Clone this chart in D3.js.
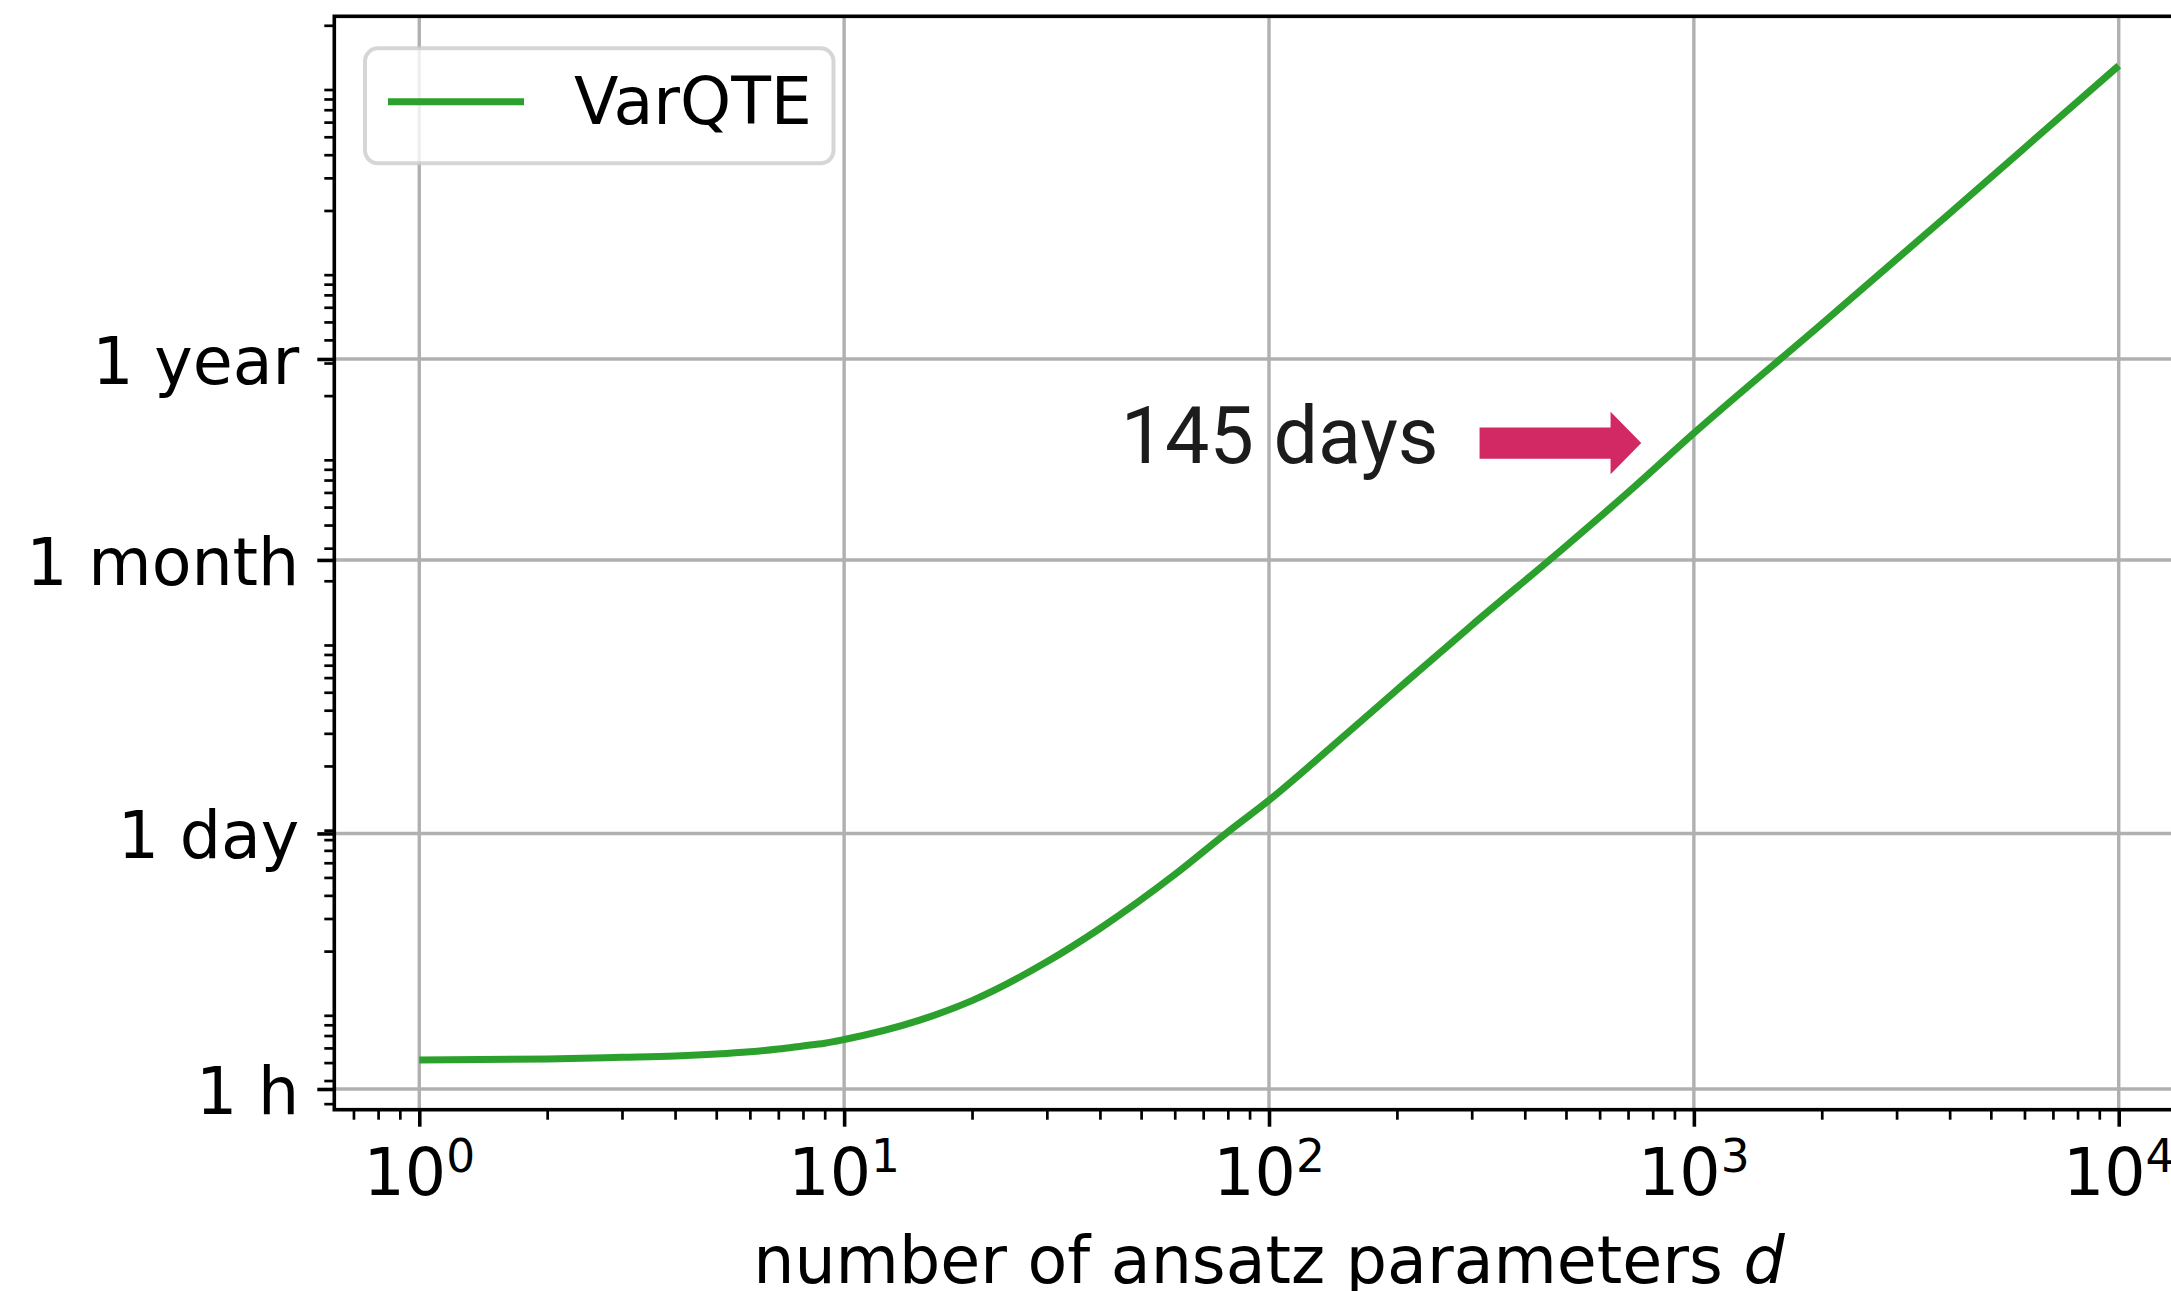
<!DOCTYPE html>
<html>
<head>
<meta charset="utf-8">
<script src="https://cdn.jsdelivr.net/npm/d3@7"></script>
<style>
  html, body { margin: 0; padding: 0; background: #ffffff; }
  svg { display: block; }
</style>
</head>
<body>
<svg id="chart" width="2171" height="1291"></svg>
<script>
// Number of ansatz parameters d
const paramCounts = [1, 2, 3, 4, 5, 6, 7, 8, 9, 10, 15, 20, 30, 40, 60, 80, 100,
                     150, 200, 300, 500, 700, 1000, 2000, 4000, 7000, 10000];
// VarQTE runtime in seconds
const runtimeSeconds = [5160, 5230, 5340, 5430, 5560, 5720, 5920, 6150, 6360, 6660,
                        8450, 10800, 17500, 26500, 51800, 88000, 130500,
                        290000, 515000, 1150000, 3080000, 6000000, 12528000,
                        48800000, 193000000, 592000000, 1210000000];
const seriesName = "VarQTE";

// Named time ticks on the y axis (seconds)
const yTickValues = [3600, 86400, 2592000, 31536000];
const yTickLabels = ["1 h", "1 day", "1 month", "1 year"];
// Decade ticks on the x axis (exponents of 10)
const xTickExponents = [0, 1, 2, 3, 4];

// Callout
const calloutText = "145 days";
const calloutParams = 1000;
const calloutSeconds = 145 * 86400;

// ---- layout ----
const W = 2171, H = 1291;
const plot = { left: 334.3, right: 2203.7, top: 16.3, bottom: 1109.7 };
const FONT = "'DejaVu Sans', sans-serif";
const FS = 65;
const GRID = "#b0b0b0";
const GREEN = "#2ca02c";

const svg = d3.select("#chart");

const x = d3.scaleLog()
  .domain([Math.pow(10, -0.2), Math.pow(10, 4.2)])
  .range([plot.left, plot.right]);
const y = d3.scaleLog()
  .domain([Math.pow(10, 3.4445), Math.pow(10, 9.3496)])
  .range([plot.bottom, plot.top]);

// log minor tick values (2..9 × 10^k) inside a domain
function minorTicks(scale, kMin, kMax) {
  const [lo, hi] = scale.domain();
  const out = [];
  for (let k = kMin; k <= kMax; k++) {
    for (let n = 2; n <= 9; n++) {
      const v = n * Math.pow(10, k);
      if (v >= lo && v <= hi) out.push(v);
    }
  }
  return out;
}
const xMajor = xTickExponents.map(e => Math.pow(10, e));
const xMinor = minorTicks(x, -1, 4);
const yMinor = minorTicks(y, 3, 9);

// ---- grid ----
const grid = svg.append("g").attr("class", "grid");
grid.selectAll("line.gx").data(xMajor).join("line")
  .attr("x1", d => x(d)).attr("x2", d => x(d))
  .attr("y1", plot.top).attr("y2", plot.bottom)
  .attr("stroke", GRID).attr("stroke-width", 3.4);
grid.selectAll("line.gy").data(yTickValues).join("line")
  .attr("y1", d => y(d)).attr("y2", d => y(d))
  .attr("x1", plot.left).attr("x2", plot.right)
  .attr("stroke", GRID).attr("stroke-width", 3.4);

// ---- series ----
const series = paramCounts.map((d, i) => ({ d, t: runtimeSeconds[i] }));
const line = d3.line()
  .x(p => x(p.d))
  .y(p => y(p.t))
  .curve(d3.curveMonotoneX);
svg.append("path")
  .datum(series)
  .attr("d", line)
  .attr("fill", "none")
  .attr("stroke", GREEN)
  .attr("stroke-width", 7)
  .attr("stroke-linecap", "butt")
  .attr("stroke-linejoin", "round");

// ---- axes ticks ----
function styleTicks(g, width) {
  g.select(".domain").remove();
  g.selectAll(".tick line").attr("stroke", "#000").attr("stroke-width", width);
  g.selectAll(".tick text").remove();
}
svg.append("g").attr("transform", `translate(0,${plot.bottom})`)
  .call(d3.axisBottom(x).tickValues(xMinor).tickSize(10).tickFormat(""))
  .call(g => styleTicks(g, 2.7));
svg.append("g").attr("transform", `translate(0,${plot.bottom})`)
  .call(d3.axisBottom(x).tickValues(xMajor).tickSize(17).tickFormat(""))
  .call(g => styleTicks(g, 3.6));
svg.append("g").attr("transform", `translate(${plot.left},0)`)
  .call(d3.axisLeft(y).tickValues(yMinor).tickSize(10).tickFormat(""))
  .call(g => styleTicks(g, 2.7));
svg.append("g").attr("transform", `translate(${plot.left},0)`)
  .call(d3.axisLeft(y).tickValues(yTickValues).tickSize(17).tickFormat(""))
  .call(g => styleTicks(g, 3.6));

// ---- spines ----
svg.append("rect")
  .attr("x", plot.left).attr("y", plot.top)
  .attr("width", plot.right - plot.left).attr("height", plot.bottom - plot.top)
  .attr("fill", "none").attr("stroke", "#000").attr("stroke-width", 3.6);

// ---- tick labels ----
const xLabels = svg.append("g").attr("font-family", FONT).attr("font-size", FS).attr("fill", "#000");
xTickExponents.forEach(e => {
  const t = xLabels.append("text")
    .attr("x", x(Math.pow(10, e)))
    .attr("y", plot.bottom + 85.3)
    .attr("text-anchor", "middle");
  t.append("tspan").text("10");
  t.append("tspan").attr("dy", -23.3).attr("font-size", FS * 0.7).text(String(e));
});

const yLabels = svg.append("g").attr("font-family", FONT).attr("font-size", FS).attr("fill", "#000");
yLabels.selectAll("text").data(yTickValues).join("text")
  .attr("x", plot.left - 35)
  .attr("y", d => y(d))
  .attr("dy", "0.385em")
  .attr("text-anchor", "end")
  .text((d, i) => yTickLabels[i]);

// ---- x axis title ----
const xt = svg.append("text")
  .attr("x", (plot.left + plot.right) / 2)
  .attr("y", 1283)
  .attr("text-anchor", "middle")
  .attr("font-family", FONT).attr("font-size", FS).attr("fill", "#000");
xt.append("tspan").text("number of ansatz parameters ");
xt.append("tspan").attr("font-style", "italic").text("d");

// ---- legend ----
const legend = svg.append("g").attr("class", "legend");
legend.append("rect")
  .attr("x", 365).attr("y", 48.3).attr("width", 468.5).attr("height", 115)
  .attr("rx", 13).attr("ry", 13)
  .attr("fill", "#ffffff").attr("fill-opacity", 0.8)
  .attr("stroke", "#cccccc").attr("stroke-opacity", 0.8).attr("stroke-width", 4);
legend.append("line")
  .attr("x1", 388).attr("x2", 524).attr("y1", 101.7).attr("y2", 101.7)
  .attr("stroke", GREEN).attr("stroke-width", 7);
legend.append("text")
  .attr("x", 574).attr("y", 124)
  .attr("font-family", FONT).attr("font-size", FS).attr("fill", "#000")
  .text(seriesName);

// ---- callout arrow + label ----
const tipX = x(calloutParams) - 52.6;
const midY = y(calloutSeconds) + 9.8;
const arrowLen = 161.7, headLen = 30.7, bodyHalf = 15.6, headHalf = 31.3;
const arrowPts = [
  [tipX, midY],
  [tipX - headLen, midY - headHalf],
  [tipX - headLen, midY - bodyHalf],
  [tipX - arrowLen, midY - bodyHalf],
  [tipX - arrowLen, midY + bodyHalf],
  [tipX - headLen, midY + bodyHalf],
  [tipX - headLen, midY + headHalf]
];
svg.append("path")
  .attr("d", d3.line()(arrowPts) + "Z")
  .attr("fill", "#d22863");
svg.append("text")
  .attr("x", tipX - arrowLen - 41)
  .attr("y", midY + 19.7)
  .attr("text-anchor", "end")
  .attr("font-family", "Roboto, 'Noto Sans', sans-serif")
  .attr("font-size", 79)
  .attr("fill", "#1c1c1c")
  .text(calloutText);
</script>
</body>
</html>
